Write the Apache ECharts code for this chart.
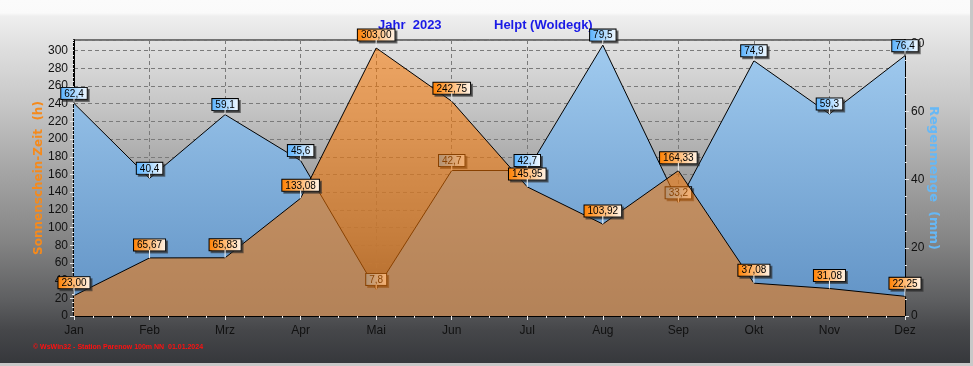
<!DOCTYPE html>
<html><head><meta charset="utf-8">
<script src="https://cdn.jsdelivr.net/npm/echarts@6/dist/echarts.min.js"></script>
<style>
html,body{margin:0;padding:0;background:#c8c8c8;}
#chart{width:970px;height:363px;background:linear-gradient(to bottom,#fbfbfb 0px,#fafafa 13px,#efefef 16px,#dedede 50px,#c4c4c4 110px,#a6a6a6 170px,#858585 240px,#5e5f61 300px,#46474a 330px,#36383c 363px);}
</style></head>
<body><div id="chart"></div>
<script>
var months = ['Jan','Feb','Mrz','Apr','Mai','Jun','Jul','Aug','Sep','Okt','Nov','Dez'];
var sunshine = [23.00, 65.67, 65.83, 133.08, 303.00, 242.75, 145.95, 103.92, 164.33, 37.08, 31.08, 22.25];
var rain = [62.4, 40.4, 59.1, 45.6, 7.8, 42.7, 42.7, 79.5, 33.2, 74.9, 59.3, 76.4];
var leftTicks = {min: 0, max: 312, interval: 20};
var rightTicks = {min: 0, max: 81, interval: 20};

var chart = echarts.init(document.getElementById('chart'), null, {renderer: 'canvas'});
var FONT = 'Arial, "Liberation Sans", sans-serif';
function de(v, d){ return v.toFixed(d).replace('.', ','); }
function boxStyle(c1, c2, stemH){
  return {
    box: {
      backgroundColor: new echarts.graphic.LinearGradient(0,0,1,0,[{offset:0,color:c1},{offset:1,color:c2}]),
      borderColor: '#000', borderWidth: 1, padding: [1,3,0,3],
      color: '#000', fontSize: 10, fontFamily: FONT, lineHeight: 10,
      shadowColor: 'rgba(40,40,40,0.6)', shadowOffsetX: 2, shadowOffsetY: 2
    },
    stem: {width: 1, height: stemH, backgroundColor: '#f4f4f4', lineHeight: stemH}
  };
}
var tickStyle = {show: true, length: 4, lineStyle: {color: '#e8e8e8', width: 1}};
var minorStyle = {show: true, splitNumber: 4, length: 2, lineStyle: {color: '#e8e8e8', width: 1}};

chart.setOption({
  animation: false,
  backgroundColor: 'transparent',
  grid: {left: 74, right: 65, top: 40, bottom: 47, show: true, borderColor: '#000', borderWidth: 1, backgroundColor: 'transparent'},
  xAxis: [{
    type: 'category', data: months, boundaryGap: false,
    axisLine: {lineStyle: {color: '#000', width: 2}},
    axisTick: {show: false},
    axisLabel: {color: '#111', fontSize: 12, fontFamily: FONT, margin: 9},
    splitLine: {show: true, lineStyle: {color: '#7a7a7a', type: [4,3], width: 1}}
  },{
    type: 'value', min: 0, max: months.length - 1, interval: 1, position: 'bottom',
    axisLine: {show: false}, axisLabel: {show: false},
    axisTick: tickStyle, minorTick: minorStyle, splitLine: {show: false}
  }],
  yAxis: [{
    type: 'value', min: leftTicks.min, max: leftTicks.max, interval: leftTicks.interval,
    axisLine: {show: true, lineStyle: {color: '#000', width: 2}},
    axisTick: tickStyle, minorTick: minorStyle,
    axisLabel: {color: '#111', fontSize: 12, fontFamily: FONT, margin: 6, showMaxLabel: false},
    splitLine: {show: true, lineStyle: {color: '#7a7a7a', type: [4,3], width: 1}},
    name: 'Sonnenschein-Zeit  (h)', nameLocation: 'middle', nameRotate: 90, nameGap: 29, nameMoveOverlap: false,
    nameTextStyle: {color: '#f58a1c', fontWeight: 'bold', fontSize: 12, fontFamily: '"DejaVu Sans", sans-serif'}
  },{
    type: 'value', min: rightTicks.min, max: rightTicks.max, interval: rightTicks.interval,
    axisLine: {show: true, lineStyle: {color: '#000', width: 2}},
    axisTick: tickStyle, minorTick: minorStyle,
    axisLabel: {color: '#111', fontSize: 12, fontFamily: FONT, margin: 6, showMaxLabel: false},
    splitLine: {show: false},
    name: 'Regenmenge  (mm)', nameLocation: 'middle', nameRotate: -90, nameGap: 22, nameMoveOverlap: false,
    nameTextStyle: {color: '#66b8f6', fontWeight: 'bold', fontSize: 13, fontFamily: '"DejaVu Sans", sans-serif'}
  }],
  graphic: [
    {type: 'text', left: 378, top: 19, style: {text: 'Jahr  2023', fill: '#1a1ae6', font: 'bold 13px ' + FONT}},
    {type: 'text', left: 494, top: 19, style: {text: 'Helpt (Woldegk)', fill: '#1a1ae6', font: 'bold 13px ' + FONT}},
    {type: 'text', left: 33, top: 344, style: {text: '\u00a9 WsWin32 - Station Parenow 100m NN  01.01.2024', fill: '#ff1010', font: 'bold 7px ' + FONT}}
  ],
  series: [{
    name: 'Regenmenge', type: 'line', yAxisIndex: 1, data: rain, z: 2,
    symbol: 'circle', symbolSize: 0, showSymbol: true,
    lineStyle: {color: '#000', width: 1},
    itemStyle: {color: '#000'},
    areaStyle: {color: new echarts.graphic.LinearGradient(0, 40, 0, 316, [{offset:0,color:'#a2ccf0'},{offset:1,color:'#5f91c4'}], true), opacity: 1},
    label: {show: true, position: 'top', distance: 0,
      formatter: function(p){ return '{box|' + de(p.value, 1) + '}\n{stem|}'; },
      rich: boxStyle('#58b2ff', '#f4faff', 5)}
  },{
    name: 'Sonnenschein', type: 'line', yAxisIndex: 0, data: sunshine, z: 3,
    symbol: 'circle', symbolSize: 0, showSymbol: true,
    lineStyle: {color: '#000', width: 1},
    itemStyle: {color: '#000'},
    areaStyle: {color: 'rgba(250,118,0,0.55)', opacity: 1},
    label: {show: true, position: 'top', distance: 0,
      formatter: function(p){ return '{box|' + de(p.value, 2) + '}\n{stem|}'; },
      rich: boxStyle('#ff8000', '#fff4e8', 8)}
  }]
});
</script></body></html>
